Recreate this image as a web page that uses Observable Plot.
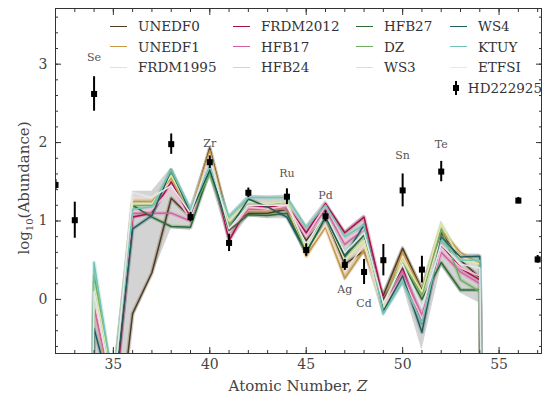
<!DOCTYPE html>
<html><head><meta charset="utf-8">
<script src="https://cdn.jsdelivr.net/npm/d3@7"></script>
<script src="https://cdn.jsdelivr.net/npm/@observablehq/plot@0.6"></script>
<style>
body{margin:0;background:#fff;}
#wrap{position:relative;width:542px;height:395px;font-family:'DejaVu Serif',serif;}
#legend{position:absolute;left:110px;top:16px;display:grid;grid-template-columns:123px 123px 94px 92px;font-size:13.5px;color:#333;line-height:20.5px;font-family:'DejaVu Serif',serif;}
#legend .it{display:flex;align-items:center;height:20.5px;white-space:nowrap;}
#legend .sw{display:inline-block;width:17px;height:0;border-top:1.5px solid;margin-right:11px;}
#legend .eb{display:inline-block;width:17px;height:14px;margin-right:11px;position:relative;}
#legend .eb::before{content:"";position:absolute;left:5px;top:0;width:2px;height:14px;background:#000;}
#legend .eb::after{content:"";position:absolute;left:3px;top:4px;width:6px;height:6px;background:#000;}
</style></head>
<body><div id="wrap"></div>
<script>
// Atomic numbers for model curves
const Zmod = [33,34,35,36,37,38,39,40,41,42,43,44,45,46,47,48,49,50,51,52,53,54,55];
// Model predictions log10(abundance)
const UNEDF0   = [-20,-3.0,-2.3,-0.18,0.34,1.29,1.05,1.93,0.95,1.10,1.10,1.15,0.75,1.05,0.45,0.62,0.05,0.65,0.12,0.85,0.50,0.28,-20];
const UNEDF1   = [-20,-0.05,-1.3,1.25,1.25,1.55,1.10,1.90,0.95,1.12,1.12,1.18,0.55,0.92,0.27,0.63,-0.05,0.60,0.10,0.88,0.60,0.45,-20];
const FRDM1995 = [-20,0.00,-1.2,1.30,1.30,1.50,1.05,1.85,0.90,1.15,1.15,1.20,0.60,0.95,0.35,0.70,-0.15,0.55,0.05,0.80,0.55,0.45,-20];
const FRDM2012 = [-20,-1.5,-1.5,1.05,1.10,1.50,1.05,1.80,0.75,1.20,1.18,1.20,0.85,1.22,0.85,1.05,0.00,0.40,-0.30,0.70,0.40,0.25,-20];
const HFB17    = [-20,-0.10,-1.2,1.10,1.10,1.10,1.00,1.75,0.85,1.15,1.15,1.15,0.80,1.15,0.70,0.90,-0.05,0.35,-0.20,0.60,0.35,0.20,-20];
const HFB24    = [-20,0.05,-1.2,1.12,1.15,1.40,1.02,1.75,0.85,1.18,1.15,1.20,0.80,1.20,0.75,0.90,-0.10,0.30,-0.25,0.65,0.40,0.30,-20];
const HFB27    = [-20,0.22,-1.1,1.20,1.05,0.93,0.92,1.65,0.88,1.08,1.07,1.10,0.60,1.05,0.55,0.82,-0.05,0.45,0.00,0.47,0.12,0.12,-20];
const DZ       = [-20,0.30,-1.1,1.20,1.20,1.60,1.10,1.60,0.95,1.20,1.20,1.25,0.60,1.10,0.60,0.85,-0.05,0.50,0.05,0.90,0.25,0.10,-20];
const WS3      = [-20,0.20,-1.1,1.22,1.22,1.58,1.12,1.70,1.00,1.25,1.22,1.25,0.65,1.05,0.50,0.75,-0.10,0.50,0.10,0.97,0.50,0.45,-20];
const WS4      = [-20,-0.37,-1.3,0.90,1.07,1.65,1.10,1.65,0.90,1.28,1.18,1.05,0.60,1.05,0.55,0.95,-0.15,0.30,-0.42,0.80,0.54,0.55,-20];
const KTUY     = [-20,0.47,-1.1,1.15,1.18,1.65,1.15,1.70,1.05,1.30,1.30,1.30,0.92,1.20,0.80,0.95,-0.18,0.22,-0.30,0.75,0.50,0.50,-20];
const ETFSI    = [-20,0.10,-1.2,1.36,1.30,1.45,1.10,1.80,0.90,1.20,1.20,1.20,0.70,1.10,0.60,0.85,-0.05,0.45,-0.10,0.70,0.45,0.40,-20];
// Overall model spread band
const bandHi = [-20,0.50,-1.0,1.38,1.38,1.68,1.20,1.95,1.08,1.33,1.32,1.33,0.95,1.26,0.88,1.08,0.10,0.68,0.20,1.00,0.58,0.58,-20];
const bandLo = [-20,-0.45,-2.5,-0.25,0.30,0.90,0.88,1.55,0.72,1.05,1.03,1.03,0.55,0.90,0.23,0.58,-0.22,0.18,-0.65,0.42,0.08,-0.05,-20];

const modelNames  = ["UNEDF0","UNEDF1","FRDM1995","FRDM2012","HFB17","HFB24","HFB27","DZ","WS3","WS4","KTUY","ETFSI"];
const modelValues = [UNEDF0,UNEDF1,FRDM1995,FRDM2012,HFB17,HFB24,HFB27,DZ,WS3,WS4,KTUY,ETFSI];
const modelColors = ["#4f3d22","#c49a45","#f6dcc2","#a8124c","#d263a0","#f3c2d9","#2e6b34","#6fae62","#dde8a6","#1f5c5c","#72c4b4","#e3e8ec"];

// HD222925 observations
const obsZ   = [32,33,34,38,39,40,41,42,44,45,46,47,48,49,50,51,52,56,57];
const obsVal = [1.46,1.01,2.62,1.98,1.05,1.75,0.72,1.36,1.31,0.63,1.06,0.44,0.35,0.50,1.39,0.38,1.63,1.26,0.51];
const obsErr = [0.07,0.23,0.22,0.13,0.06,0.08,0.11,0.06,0.10,0.08,0.07,0.07,0.16,0.20,0.21,0.17,0.13,0.04,0.05];

// Element annotations
const elName = ["Se","Zr","Ru","Pd","Ag","Cd","Sn","Te"];
const elZ    = [34,40,44,46,47,48,50,52];
const elY    = [3.09,1.99,1.61,1.32,0.13,-0.05,1.83,1.98];

// Axis ticks
const xMajor = [35,40,45,50,55];
const xMinor = [32,33,34,35,36,37,38,39,40,41,42,43,44,45,46,47,48,49,50,51,52,53,54,55,56,57];
const yMajor = [0,1,2,3];
const yMinor = [-0.6,-0.4,-0.2,0,0.2,0.4,0.6,0.8,1,1.2,1.4,1.6,1.8,2,2.2,2.4,2.6,2.8,3,3.2,3.4,3.6];

const band = Zmod.map((z,i)=>({Z:z, lo:bandLo[i], hi:bandHi[i]}));
const lines = modelNames.flatMap((m,k)=>Zmod.map((z,i)=>({model:m, Z:z, v:modelValues[k][i]})));
const obs = obsZ.map((z,i)=>({Z:z, v:obsVal[i], e:obsErr[i]}));
const labels = elName.map((n,i)=>({name:n, Z:elZ[i], y:elY[i]}));

const FONT = "'DejaVu Serif', serif";

const chart = Plot.plot({
  width:542, height:395,
  marginLeft:55, marginRight:1, marginTop:8, marginBottom:42,
  style:{fontFamily:FONT, fontSize:"14px", color:"#444", background:"#fff"},
  x:{domain:[32,57.2]},
  y:{domain:[-0.69,3.71]},
  color:{domain:modelNames, range:modelColors},
  marks:[
    Plot.areaY(band,{x:"Z", y1:"lo", y2:"hi", fill:"#d3d3d3", clip:true}),
    Plot.line(lines,{x:"Z", y:"v", z:"model", stroke:"model", strokeWidth:4, strokeOpacity:0.25, clip:true}),
    Plot.line(lines,{x:"Z", y:"v", z:"model", stroke:"model", strokeWidth:1.5, clip:true}),
    Plot.ruleX(obs,{x:"Z", y1:d=>d.v-d.e, y2:d=>d.v+d.e, stroke:"#000", strokeWidth:2, clip:true}),
    Plot.dot(obs,{x:"Z", y:"v", symbol:"square", r:3.4, fill:"#000", stroke:"none", clip:true}),
    Plot.text(labels,{x:"Z", y:"y", text:"name", fill:"#555", fontSize:11, fontFamily:FONT}),
    Plot.frame({stroke:"#333"}),
    Plot.axisX({ticks:xMajor, tickSize:-6, tickPadding:12, tickFormat:d=>d, label:null, stroke:"#333", fill:"#444"}),
    Plot.axisX({ticks:xMinor, tickSize:-3, text:null, label:null, stroke:"#333"}),
    Plot.axisX({anchor:"top", ticks:xMajor, tickSize:-6, text:null, label:null, stroke:"#333"}),
    Plot.axisX({anchor:"top", ticks:xMinor, tickSize:-3, text:null, label:null, stroke:"#333"}),
    Plot.axisY({ticks:yMajor, tickSize:-6, tickPadding:14, tickFormat:d=>d, label:null, stroke:"#333", fill:"#444"}),
    Plot.axisY({ticks:yMinor, tickSize:-3, text:null, label:null, stroke:"#333"}),
    Plot.axisY({anchor:"right", ticks:yMajor, tickSize:-6, text:null, label:null, stroke:"#333"}),
    Plot.axisY({anchor:"right", ticks:yMinor, tickSize:-3, text:null, label:null, stroke:"#333"})
  ]
});

const wrap = document.getElementById("wrap");
wrap.appendChild(chart);
const svg = d3.select(chart);
const xl = svg.append("text").attr("x",298).attr("y",391).attr("text-anchor","middle")
  .attr("font-size",15).attr("fill","#444").attr("font-family",FONT);
xl.append("tspan").text("Atomic Number, ");
xl.append("tspan").attr("font-style","italic").text("Z");
const yl = svg.append("text").attr("transform","translate(29,188) rotate(-90)").attr("text-anchor","middle")
  .attr("font-size",15).attr("fill","#444").attr("font-family",FONT);
yl.append("tspan").text("log");
yl.append("tspan").attr("font-size",10).attr("dy",4).text("10");
yl.append("tspan").attr("dy",-4).text("(Abundance)");

// Legend
const leg = document.createElement("div");
leg.id = "legend";
const order = [0,3,6,9,1,4,7,10,2,5,8,11];
order.forEach(k=>{
  const it = document.createElement("div"); it.className="it";
  const sw = document.createElement("span"); sw.className="sw"; sw.style.borderColor = modelColors[k];
  it.appendChild(sw); it.appendChild(document.createTextNode(modelNames[k]));
  leg.appendChild(it);
});
for(let i=0;i<3;i++){ leg.appendChild(document.createElement("div")); }
const hd = document.createElement("div"); hd.className="it";
const eb = document.createElement("span"); eb.className="eb"; hd.appendChild(eb);
hd.appendChild(document.createTextNode("HD222925"));
leg.appendChild(hd);
wrap.appendChild(leg);
</script></body></html>
